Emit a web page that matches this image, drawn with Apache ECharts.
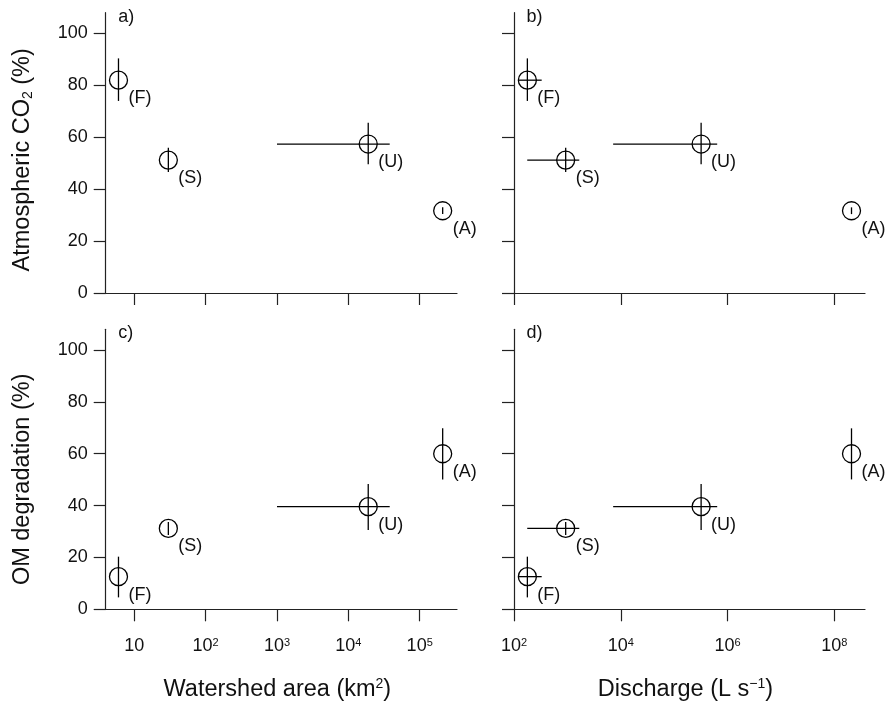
<!DOCTYPE html>
<html>
<head>
<meta charset="utf-8">
<script src="https://cdn.jsdelivr.net/npm/echarts@6/dist/echarts.min.js"></script>
<style>
html,body{margin:0;padding:0;background:#fff;}
#chart{width:889px;height:705px;}
</style>
</head>
<body>
<div id="chart"></div>
<script>
// ---- data ----
const sites = ['(F)', '(S)', '(U)', '(A)'];
const areaKm2 = [6, 30, 1.9e4, 2.1e5];
const areaLo  = [null, null, 1e3, null];
const areaHi  = [null, null, 3.8e4, null];
const dischargeLs = [178, 929, 3.2e5, 2.1e8];
const dischargeLo = [120, 177, 7.2e3, null];
const dischargeHi = [330, 1670, 6.4e5, null];
const atmCO2   = [82, 51.2, 57.4, 31.7];
const atmCO2Lo = [74, 46.6, 49.6, 30.4];
const atmCO2Hi = [90.4, 56, 65.6, 33.0];
const omDeg   = [12.6, 31.2, 39.6, 60];
const omDegLo = [4.6, 28.7, 30.6, 50.1];
const omDegHi = [20.3, 33.7, 48.3, 69.8];
const areaTicks = [10, 100, 1e3, 1e4, 1e5];
const dischargeTicks = [1e2, 1e4, 1e6, 1e8];
const yTicks = [0, 20, 40, 60, 80, 100];
const panelLabels = ['a)', 'b)', 'c)', 'd)'];

// ---- styling ----
const FONT = "'Liberation Sans', Arial, sans-serif";
const INK = '#111';
const AX = '#222';

const chart = echarts.init(document.getElementById('chart'));

const grids = [
  {left: 105.7, top: 12.7, width: 351.3, height: 280.3},
  {left: 514,   top: 12.7, width: 351,   height: 280.3},
  {left: 105.7, top: 329.3, width: 351.3, height: 280},
  {left: 514,   top: 329.3, width: 351,   height: 280}
];

function powLabel(v) {
  const e = Math.round(Math.log10(v));
  if (e === 1) return '10';
  return '10{sup|' + e + '}';
}

function xAxisDef(gi, ticks, min, max, showLabels, name) {
  return {
    type: 'log', logBase: 10, gridIndex: gi, min: min, max: max,
    axisLine: {show: true, lineStyle: {color: AX, width: 1.2}},
    axisTick: {show: true, inside: false, length: 12, customValues: ticks, lineStyle: {color: AX, width: 1.2}},
    axisLabel: {
      show: showLabels, customValues: ticks, formatter: powLabel, margin: 27,
      color: INK, fontFamily: FONT, fontSize: 18, lineHeight: 20,
      rich: {sup: {fontSize: 11, lineHeight: 11, verticalAlign: 'top', padding: [1, 0, 0, 0], color: INK, fontFamily: FONT}}
    },
    splitLine: {show: false},
    name: name || '', nameLocation: 'middle', nameGap: 68,
    nameTextStyle: {color: INK, fontFamily: FONT, fontSize: 23.5, lineHeight: 25, padding: [0, 8, 0, 0],
      rich: {sup: {fontSize: 14, lineHeight: 14, verticalAlign: 'top', color: INK, fontFamily: FONT}}}
  };
}

function yAxisDef(gi, showLabels, name, shift) {
  return {
    type: 'value', gridIndex: gi, min: 0, max: 108,
    axisLine: {show: true, lineStyle: {color: AX, width: 1.2}},
    axisTick: {show: true, inside: false, length: 12, customValues: yTicks, lineStyle: {color: AX, width: 1.2}},
    axisLabel: {show: showLabels, customValues: yTicks, margin: 18, color: INK, fontFamily: FONT, fontSize: 18},
    splitLine: {show: false},
    name: name || '', nameLocation: 'middle', nameRotate: 90, nameGap: 71,
    nameTextStyle: {color: INK, fontFamily: FONT, fontSize: 23.5, lineHeight: 25, padding: [0, shift || 0, 0, 0],
      rich: {sub: {fontSize: 14, lineHeight: 14, verticalAlign: 'bottom', color: INK, fontFamily: FONT}}}
  };
}

function makeRender(xv, xlo, xhi, yv, ylo, yhi) {
  return function (params, api) {
    const i = params.dataIndex;
    const c = api.coord([xv[i], yv[i]]);
    const children = [];
    const ls = {stroke: '#000', lineWidth: 1.3};
    if (ylo[i] != null && yhi[i] != null) {
      const p1 = api.coord([xv[i], ylo[i]]);
      const p2 = api.coord([xv[i], yhi[i]]);
      children.push({type: 'line', shape: {x1: p1[0], y1: p1[1], x2: p2[0], y2: p2[1]}, style: ls});
    }
    if (xlo[i] != null && xhi[i] != null) {
      const p1 = api.coord([xlo[i], yv[i]]);
      const p2 = api.coord([xhi[i], yv[i]]);
      children.push({type: 'line', shape: {x1: p1[0], y1: p1[1], x2: p2[0], y2: p2[1]}, style: ls});
    }
    children.push({type: 'circle', shape: {cx: c[0], cy: c[1], r: 9}, style: {fill: 'none', stroke: '#000', lineWidth: 1.3}});
    children.push({type: 'text', x: c[0] + 10, y: c[1] + 18,
      style: {text: sites[i], fontSize: 18, fontFamily: FONT, fill: INK, align: 'left', verticalAlign: 'middle'}});
    return {type: 'group', children: children};
  };
}

function series(gi, xv, xlo, xhi, yv, ylo, yhi) {
  return {
    type: 'custom', xAxisIndex: gi, yAxisIndex: gi, clip: false,
    data: xv.map((x, i) => [x, yv[i]]),
    renderItem: makeRender(xv, xlo, xhi, yv, ylo, yhi)
  };
}

const areaMin = Math.pow(10, 0.599), areaMax = Math.pow(10, 5.523);
const disMin = 100, disMax = Math.pow(10, 8.575);

const option = {
  backgroundColor: '#fff',
  animation: false,
  grid: grids,
  xAxis: [
    xAxisDef(0, areaTicks, areaMin, areaMax, false),
    xAxisDef(1, dischargeTicks, disMin, disMax, false),
    xAxisDef(2, areaTicks, areaMin, areaMax, true, 'Watershed area (km{sup|2})'),
    xAxisDef(3, dischargeTicks, disMin, disMax, true, 'Discharge (L s{sup|\u22121})')
  ],
  yAxis: [
    yAxisDef(0, true, 'Atmospheric CO{sub|2} (%)', 14),
    yAxisDef(1, false),
    yAxisDef(2, true, 'OM degradation (%)', 20),
    yAxisDef(3, false)
  ],
  series: [
    series(0, areaKm2, areaLo, areaHi, atmCO2, atmCO2Lo, atmCO2Hi),
    series(1, dischargeLs, dischargeLo, dischargeHi, atmCO2, atmCO2Lo, atmCO2Hi),
    series(2, areaKm2, areaLo, areaHi, omDeg, omDegLo, omDegHi),
    series(3, dischargeLs, dischargeLo, dischargeHi, omDeg, omDegLo, omDegHi)
  ],
  graphic: panelLabels.map((t, k) => ({
    type: 'text', left: grids[k].left + 12.5, top: grids[k].top - 5,
    style: {text: t, fontSize: 18, fontFamily: FONT, fill: INK}
  }))
};
chart.setOption(option);
</script>
</body>
</html>
